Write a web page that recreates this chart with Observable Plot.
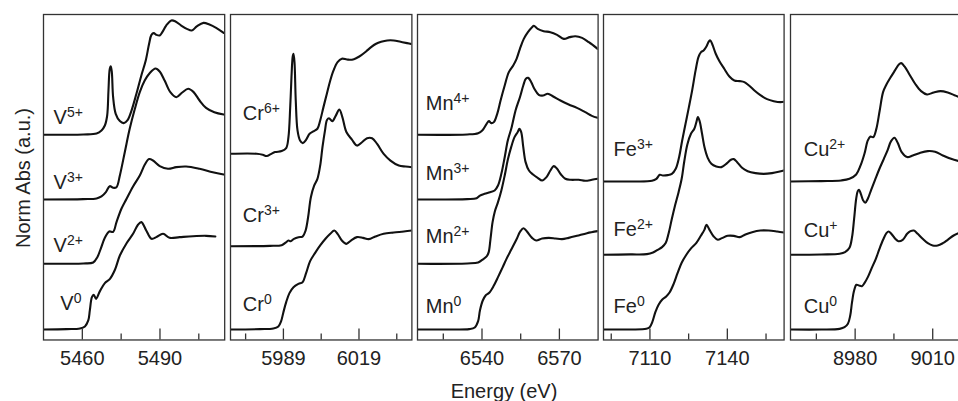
<!DOCTYPE html>
<html>
<head>
<meta charset="utf-8">
<script src="https://cdn.jsdelivr.net/npm/d3@7"></script>
<script src="https://cdn.jsdelivr.net/npm/@observablehq/plot@0.6"></script>
<style>
  html, body { margin: 0; padding: 0; background: #fff; overflow: hidden; }
  #fig { position: relative; width: 958px; height: 401px; overflow: hidden;
         font-family: "Liberation Sans", Arial, Helvetica, sans-serif; color: #222; }
  #fig svg { position: absolute; top: 13px; overflow: visible; }
  .title { position: absolute; font-size: 20px; line-height: 20px; white-space: nowrap; }
</style>
</head>
<body>
<div id="fig"></div>
<script>
// Normalised K-edge XANES spectra: [energy (eV), normalised absorbance]
const V0 = [[5445,0],[5454,0.004],[5459.1,0.011],[5461.0,0.033],[5462.3,0.098],[5462.9,0.207],[5463.7,0.351],[5464.4,0.377],[5465.3,0.333],[5466.8,0.417],[5468.7,0.504],[5470.6,0.547],[5472.6,0.649],[5474.5,0.804],[5477.1,0.938],[5479.6,1.04],[5481.5,1.138],[5482.8,1.167],[5484.7,1.076],[5486.7,0.986],[5488.6,1.004],[5491.2,1.04],[5493.7,0.996],[5497.6,1.004],[5502.7,1.014],[5507.8,1.018],[5511.4,1.011]];
const V2 = [[5445,0],[5460.4,0.004],[5464.2,0.014],[5465.8,0.072],[5467.1,0.163],[5468.7,0.283],[5470.4,0.351],[5471.9,0.348],[5473.2,0.453],[5475.1,0.598],[5477.1,0.707],[5479.6,0.841],[5482.2,0.96],[5484.1,1.076],[5485.8,1.138],[5487.3,1.123],[5489.9,1.062],[5493.1,1.033],[5496.3,1.051],[5500.1,1.058],[5505.3,1.033],[5510.4,0.996],[5514.6,0.971]];
const V3 = [[5445,0],[5460.4,0.004],[5465.5,0.011],[5467.4,0.033],[5469.1,0.08],[5470.6,0.145],[5471.9,0.127],[5473.2,0.134],[5474.5,0.261],[5476.4,0.514],[5478.3,0.768],[5480.3,0.986],[5482.2,1.167],[5484.1,1.293],[5486.0,1.373],[5488.3,1.424],[5489.9,1.391],[5491.8,1.293],[5494.0,1.167],[5496.3,1.112],[5498.6,1.163],[5500.9,1.203],[5503.0,1.167],[5505.3,1.076],[5507.8,0.996],[5511.0,0.949],[5514.6,0.924]];
const V5 = [[5445,0],[5460.4,0.004],[5465.5,0.014],[5467.4,0.047],[5468.7,0.101],[5469.6,0.21],[5470.1,0.482],[5470.6,0.717],[5471.0,0.746],[5471.4,0.681],[5471.9,0.409],[5472.9,0.228],[5474.5,0.149],[5476.0,0.127],[5477.4,0.156],[5479.0,0.264],[5480.9,0.446],[5482.8,0.645],[5484.5,0.808],[5485.8,0.989],[5486.7,1.087],[5487.6,1.105],[5488.6,1.087],[5489.9,1.08],[5490.9,1.116],[5492.4,1.188],[5494.4,1.243],[5496.0,1.232],[5498.2,1.188],[5500.4,1.152],[5502.3,1.134],[5504.2,1.178],[5506.8,1.217],[5509.1,1.199],[5511.7,1.163],[5514.6,1.109]];

const Cr0 = [[5967.9,0],[5979.7,0.004],[5985.0,0.011],[5987.0,0.033],[5988.1,0.091],[5989.0,0.188],[5990.1,0.297],[5991.4,0.395],[5993.0,0.46],[5995.0,0.496],[5996.6,0.514],[5998.0,0.612],[5999.6,0.743],[6001.6,0.833],[6003.6,0.913],[6005.7,0.986],[6007.6,1.04],[6009.2,1.076],[6010.5,1.04],[6012.2,0.967],[6014.0,0.931],[6015.8,0.967],[6018.2,1.004],[6020.6,0.996],[6022.9,0.982],[6025.5,1.011],[6028.8,1.04],[6032.8,1.054],[6036.8,1.065],[6040.1,1.076]];
const Cr3 = [[5967.9,0],[5983.7,0.004],[5988.3,0.011],[5989.9,0.04],[5991.0,0.062],[5991.9,0.054],[5993.2,0.08],[5995.0,0.098],[5996.6,0.105],[5997.8,0.17],[5998.8,0.315],[5999.9,0.533],[6001.2,0.659],[6002.5,0.732],[6003.6,0.877],[6004.5,1.076],[6005.5,1.257],[6006.3,1.373],[6007.1,1.391],[6008.4,1.359],[6009.8,1.42],[6011.2,1.486],[6012.4,1.404],[6014.0,1.241],[6016.2,1.159],[6018.2,1.094],[6020.2,1.13],[6022.2,1.174],[6024.2,1.174],[6026.2,1.112],[6028.8,1.004],[6031.5,0.931],[6034.8,0.877],[6037.5,0.866],[6040.1,0.859]];
const Cr6 = [[5967.9,0],[5978.4,0],[5980.8,-0.011],[5982.4,-0.025],[5984.0,-0.004],[5985.7,0.018],[5988.3,0.029],[5990.1,0.062],[5991.0,0.181],[5991.7,0.507],[5992.2,0.833],[5992.7,1.058],[5993.0,1.087],[5993.4,0.996],[5993.9,0.58],[5994.6,0.254],[5995.6,0.145],[5996.7,0.116],[5998.0,0.152],[5999.4,0.217],[6000.9,0.243],[6002.5,0.272],[6003.6,0.362],[6004.9,0.507],[6006.3,0.659],[6007.6,0.797],[6008.9,0.906],[6010.5,0.996],[6012.2,1.033],[6014.2,1.025],[6016.2,1.022],[6018.2,1.043],[6019.8,1.069],[6021.8,1.112],[6023.8,1.159],[6025.8,1.196],[6027.8,1.217],[6030.2,1.232],[6032.8,1.232],[6035.5,1.217],[6038.1,1.203],[6040.1,1.192]];

const Mn0 = [[6515.0,0],[6527.9,0],[6535.0,0.004],[6537.2,0.022],[6538.5,0.091],[6539.2,0.207],[6540.3,0.315],[6541.4,0.37],[6542.8,0.399],[6544.6,0.478],[6546.2,0.569],[6547.9,0.67],[6549.5,0.768],[6551.3,0.866],[6553.3,0.975],[6554.9,1.069],[6556.1,1.101],[6557.5,1.062],[6559.4,0.996],[6561.0,0.967],[6563.3,0.989],[6565.9,0.996],[6568.5,0.989],[6571.0,0.982],[6573.6,0.996],[6576.8,1.018],[6580.7,1.047],[6584.8,1.069]];
const Mn2 = [[6515.0,0],[6534.3,0.004],[6538.5,0.014],[6540.1,0.043],[6541.8,0.08],[6542.6,0.127],[6543.3,0.272],[6544.1,0.453],[6545.0,0.572],[6546.2,0.67],[6547.5,0.797],[6548.8,0.96],[6550.0,1.13],[6551.3,1.268],[6552.6,1.377],[6553.8,1.431],[6554.5,1.467],[6555.2,1.431],[6556.0,1.268],[6556.9,1.105],[6558.2,1.014],[6559.8,0.971],[6561.6,0.935],[6563.3,0.906],[6565.0,0.942],[6566.5,1.014],[6567.8,1.062],[6569.1,1.033],[6570.6,0.971],[6572.3,0.924],[6574.5,0.913],[6577.5,0.913],[6580.0,0.902],[6582.6,0.913],[6584.8,0.924]];
const Mn3 = [[6515.0,0],[6534.3,0.004],[6537.9,0.014],[6539.2,0.043],[6541.0,0.062],[6543.1,0.08],[6544.9,0.098],[6546.2,0.152],[6547.5,0.279],[6548.8,0.46],[6550.0,0.641],[6551.5,0.786],[6553.0,0.967],[6554.7,1.112],[6556.0,1.239],[6557.0,1.312],[6557.9,1.322],[6559.1,1.275],[6560.3,1.203],[6562.0,1.138],[6563.7,1.13],[6565.5,1.149],[6567.6,1.12],[6570.4,1.076],[6573.6,1.033],[6576.8,0.996],[6580.0,0.949],[6582.6,0.909],[6584.8,0.888]];
const Mn4 = [[6515.0,0],[6534.3,0.004],[6538.5,0.018],[6540.1,0.047],[6541.8,0.12],[6542.7,0.149],[6543.6,0.127],[6544.6,0.138],[6545.9,0.228],[6547.2,0.373],[6548.8,0.536],[6550.4,0.681],[6552.1,0.754],[6553.4,0.826],[6554.7,0.935],[6556.2,1.043],[6557.8,1.116],[6559.4,1.17],[6560.1,1.185],[6561.6,1.152],[6563.9,1.127],[6566.5,1.116],[6569.1,1.087],[6571.7,1.043],[6574.0,1.062],[6576.2,1.072],[6578.8,1.054],[6581.4,1.007],[6584.8,0.935]];

const Fe0 = [[7091.8,0],[7102.4,0],[7108.6,0.007],[7109.9,0.025],[7110.9,0.08],[7112.1,0.188],[7113.4,0.272],[7114.8,0.326],[7116.3,0.359],[7117.6,0.402],[7119.2,0.496],[7120.7,0.612],[7122.3,0.725],[7124.1,0.812],[7126.0,0.884],[7128.0,0.942],[7129.8,1.022],[7131.1,1.083],[7131.9,1.138],[7133.1,1.083],[7134.7,1.011],[7136.3,0.975],[7137.9,0.993],[7140.1,1.018],[7142.5,1.018],[7144.8,1.004],[7147.0,1.033],[7149.6,1.058],[7152.8,1.076],[7156.0,1.076],[7159.3,1.065],[7161.9,1.054]];
const Fe2 = [[7091.8,0],[7102.4,0.004],[7108.8,0.007],[7111.2,0.025],[7113.0,0.054],[7114.7,0.083],[7116.1,0.127],[7117.2,0.228],[7118.5,0.391],[7119.8,0.543],[7121.1,0.681],[7122.3,0.826],[7123.3,1.014],[7124.5,1.199],[7125.9,1.315],[7127.2,1.37],[7128.0,1.442],[7128.6,1.496],[7129.3,1.449],[7130.2,1.315],[7131.2,1.163],[7132.4,1.054],[7133.8,0.989],[7135.7,0.96],[7137.7,0.953],[7139.9,0.996],[7141.4,1.033],[7142.5,1.04],[7143.8,1.007],[7145.7,0.946],[7147.9,0.909],[7150.9,0.888],[7154.1,0.88],[7157.3,0.888],[7159.9,0.902],[7161.9,0.917]];
const Fe3 = [[7091.8,0],[7102.4,0],[7110.8,0.007],[7112.5,0.029],[7113.8,0.072],[7115.0,0.065],[7116.9,0.069],[7118.5,0.083],[7120.0,0.138],[7121.3,0.264],[7122.5,0.446],[7123.8,0.627],[7125.1,0.808],[7126.4,0.996],[7127.7,1.207],[7128.8,1.351],[7129.8,1.406],[7130.8,1.424],[7131.9,1.467],[7132.9,1.525],[7133.4,1.533],[7134.2,1.489],[7135.5,1.388],[7137.0,1.304],[7138.8,1.225],[7140.8,1.141],[7142.7,1.098],[7144.8,1.091],[7146.6,1.08],[7148.4,1.043],[7150.5,0.989],[7152.8,0.938],[7155.4,0.895],[7158.0,0.873],[7160.6,0.862],[7161.9,0.866]];

const Cu0 = [[8955.2,0],[8966.9,0],[8974.0,0.007],[8975.9,0.025],[8977.2,0.062],[8978.1,0.152],[8978.8,0.297],[8979.6,0.424],[8980.5,0.486],[8981.5,0.478],[8982.6,0.471],[8983.6,0.504],[8984.9,0.569],[8986.4,0.667],[8988.0,0.768],[8989.4,0.877],[8990.8,0.975],[8992.1,1.047],[8993.0,1.065],[8994.2,1.033],[8995.5,0.986],[8996.7,0.96],[8998.4,0.975],[9000.1,1.04],[9001.4,1.069],[9002.7,1.076],[9004.2,1.04],[9006.1,0.986],[9008.1,0.938],[9010.0,0.913],[9011.9,0.913],[9013.9,0.938],[9015.8,0.975],[9018.1,1.022],[9020.2,1.051]];
const Cu1 = [[8955.2,0],[8966.9,0.004],[8974.0,0.011],[8976.1,0.029],[8977.8,0.076],[8978.8,0.192],[8979.6,0.391],[8980.4,0.609],[8981.0,0.692],[8981.5,0.707],[8982.2,0.663],[8983.1,0.591],[8983.9,0.565],[8984.9,0.609],[8986.2,0.707],[8987.7,0.815],[8989.4,0.935],[8991.1,1.043],[8992.6,1.141],[8993.9,1.236],[8995.2,1.272],[8996.5,1.214],[8998.0,1.116],[9000.1,1.062],[9002.3,1.08],[9004.8,1.105],[9008.1,1.127],[9010.9,1.12],[9013.9,1.08],[9017.1,1.043],[9020.2,1.018]];
const Cu2 = [[8955.2,0],[8966.9,0.004],[8974.6,0.011],[8977.8,0.029],[8980.4,0.076],[8982.1,0.174],[8983.6,0.301],[8984.9,0.446],[8985.9,0.489],[8987.0,0.482],[8988.2,0.572],[8989.5,0.772],[8990.8,0.971],[8992.1,1.054],[8993.6,1.127],[8995.4,1.207],[8996.9,1.272],[8997.8,1.286],[8999.1,1.25],[9001.0,1.163],[9003.2,1.062],[9005.5,0.982],[9007.8,0.946],[9010.4,0.967],[9013.0,0.982],[9015.8,0.967],[9018.4,0.938],[9020.2,0.917]];

// Stacking: [oxidation-state label, spectrum, vertical offset]
const vSpectra  = [["V^0", V0, 0], ["V^2+", V2, 0.714], ["V^3+", V3, 1.413], ["V^5+", V5, 2.116]];
const crSpectra = [["Cr^0", Cr0, 0], ["Cr^3+", Cr3, 0.905], ["Cr^6+", Cr6, 1.91]];
const mnSpectra = [["Mn^0", Mn0, 0], ["Mn^2+", Mn2, 0.714], ["Mn^3+", Mn3, 1.413], ["Mn^4+", Mn4, 2.116]];
const feSpectra = [["Fe^0", Fe0, 0], ["Fe^2+", Fe2, 0.812], ["Fe^3+", Fe3, 1.609]];
const cuSpectra = [["Cu^0", Cu0, 0], ["Cu^+", Cu1, 0.812], ["Cu^2+", Cu2, 1.609]];

// Label anchors: [text, energy, stacked absorbance at text baseline]
const vLabels  = [["V^5+", 5448.9, 2.236], ["V^3+", 5448.9, 1.529], ["V^2+", 5448.9, 0.840], ["V^0", 5451.5, 0.207]];
const crLabels = [["Cr^6+", 5972.9, 2.279], ["Cr^3+", 5972.9, 1.166], ["Cr^0", 5972.9, 0.199]];
const mnLabels = [["Mn^4+", 6518.2, 2.388], ["Mn^3+", 6518.2, 1.62], ["Mn^2+", 6518.2, 0.942], ["Mn^0", 6518.2, 0.177]];
const feLabels = [["Fe^3+", 7095.9, 1.891], ["Fe^2+", 7095.9, 1.011], ["Fe^0", 7095.9, 0.177]];
const cuLabels = [["Cu^2+", 8960.1, 1.891], ["Cu^+", 8960.1, 1.003], ["Cu^0", 8960.1, 0.177]];

// Energy windows and ticks per element
const vDomain = [5445, 5515],   vMajor = [5460, 5490], vMinor = [5475, 5505];
const crDomain = [5968, 6040],  crMajor = [5989, 6019], crMinor = [5974, 6004, 6034];
const mnDomain = [6515, 6585],  mnMajor = [6540, 6570], mnMinor = [6525, 6555];
const feDomain = [7092, 7162],  feMajor = [7110, 7140], feMinor = [7095, 7125, 7155];
const cuDomain = [8955, 9025],  cuMajor = [8980, 9010], cuMinor = [8965, 8995];

const yDomain = [-0.1141, 3.4239];

const panels = [
  {domain: vDomain,  major: vMajor,  minor: vMinor,  spectra: vSpectra,  labels: vLabels,  left: 43.3,  width: 181.2},
  {domain: crDomain, major: crMajor, minor: crMinor, spectra: crSpectra, labels: crLabels, left: 230.3, width: 181.4},
  {domain: mnDomain, major: mnMajor, minor: mnMinor, spectra: mnSpectra, labels: mnLabels, left: 416.7, width: 180.6},
  {domain: feDomain, major: feMajor, minor: feMinor, spectra: feSpectra, labels: feLabels, left: 602.7, width: 180.6},
  {domain: cuDomain, major: cuMajor, minor: cuMinor, spectra: cuSpectra, labels: cuLabels, left: 789.7, width: 181.0}
];

const fig = document.getElementById("fig");
const frameH = 325.5, mTop = 1, mBottom = 61.5;
const ink = "#222", curveInk = "#111";

// Turn "Mn^2+" style text into base + raised superscript
function superscripts(svg) {
  d3.select(svg).selectAll("text").each(function () {
    const t = this.textContent;
    if (!t.includes("^")) return;
    const [base, sup] = t.split("^");
    const el = d3.select(this);
    el.text(null);
    el.append("tspan").text(base);
    el.append("tspan").attr("dy", "-7").attr("font-size", 14).text(sup);
  });
}

for (const p of panels) {
  const rows = p.spectra.flatMap(([name, pts, off]) =>
    pts.map(([E, a]) => ({E, y: a + off, name})));
  const labelRows = p.labels.map(([text, E, y]) => ({text, E, y}));
  const svg = Plot.plot({
    width: p.width + 2,
    height: mTop + frameH + mBottom,
    marginLeft: 1, marginRight: 1, marginTop: mTop, marginBottom: mBottom,
    style: {fontFamily: '"Liberation Sans", Arial, Helvetica, sans-serif', color: ink, background: "transparent"},
    x: {domain: p.domain},
    y: {domain: yDomain, axis: null},
    marks: [
      Plot.line(rows, {x: "E", y: "y", z: "name", curve: "catmull-rom", stroke: curveInk, strokeWidth: 2.1, clip: true}),
      Plot.tickX(p.major, {x: d => d, insetTop: frameH - 11, stroke: "#333", strokeWidth: 1.3}),
      Plot.tickX(p.minor, {x: d => d, insetTop: frameH - 6, stroke: "#333", strokeWidth: 1.3}),
      Plot.frame({stroke: "#333", strokeWidth: 1.3}),
      Plot.axisX({ticks: p.major, tickSize: 0, tickPadding: 11, tickFormat: d => String(d), fontSize: 20, label: null, fill: ink}),
      Plot.text(labelRows, {x: "E", y: "y", text: "text", textAnchor: "start", lineAnchor: "bottom", fontSize: 20, fill: ink})
    ]
  });
  svg.style.left = (p.left - 1) + "px";
  superscripts(svg);
  fig.appendChild(svg);
}

// Shared axis titles
const xt = document.createElement("div");
xt.className = "title";
xt.textContent = "Energy (eV)";
xt.style.left = "504px";
xt.style.top = "381px";
xt.style.transform = "translateX(-50%)";
fig.appendChild(xt);

const yt = document.createElement("div");
yt.className = "title";
yt.textContent = "Norm Abs (a.u.)";
yt.style.left = "23px";
yt.style.top = "178px";
yt.style.transform = "translate(-50%, -50%) rotate(-90deg)";
fig.appendChild(yt);
</script>
</body>
</html>
